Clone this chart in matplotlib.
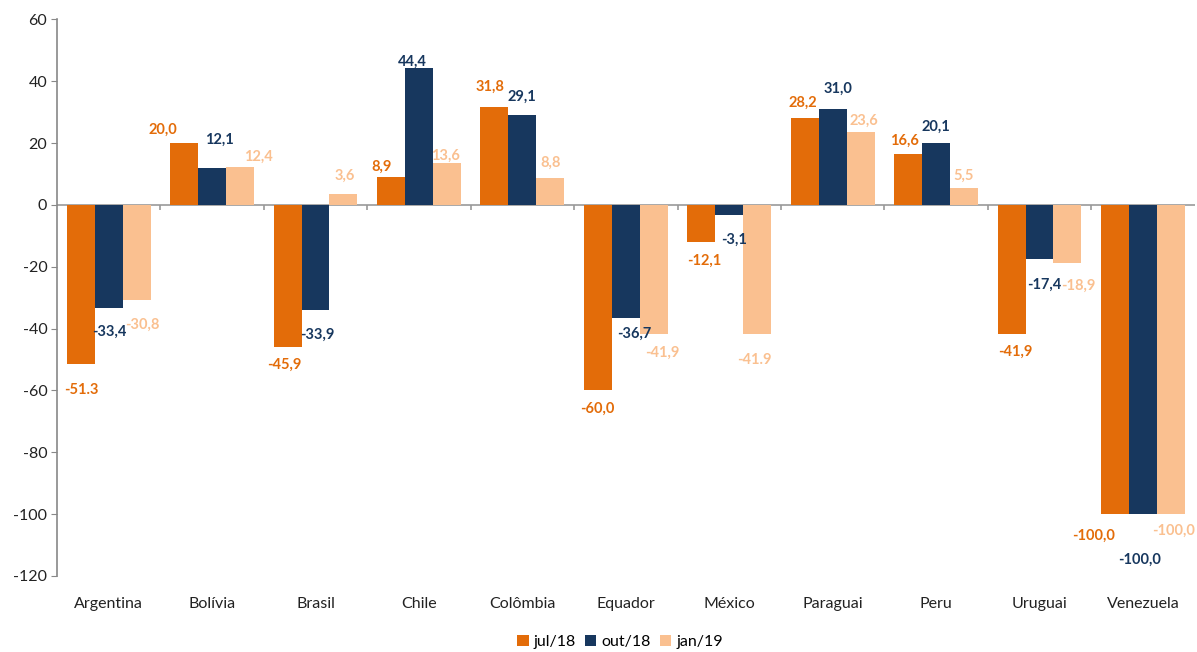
import matplotlib
matplotlib.use("Agg")
import matplotlib.pyplot as plt
import numpy as np

plt.rcParams['font.family'] = ['Lato', 'DejaVu Sans']

categories = ["Argentina", "Bolívia", "Brasil", "Chile", "Colômbia", "Equador",
              "México", "Paraguai", "Peru", "Uruguai", "Venezuela"]
series_names = ["jul/18", "out/18", "jan/19"]
jul18 = [-51.3, 20.0, -45.9, 8.9, 31.8, -60.0, -12.1, 28.2, 16.6, -41.9, -100.0]
out18 = [-33.4, 12.1, -33.9, 44.4, 29.1, -36.7, -3.1, 31.0, 20.1, -17.4, -100.0]
jan19 = [-30.8, 12.4, 3.6, 13.6, 8.8, -41.9, -41.9, 23.6, 5.5, -18.9, -100.0]
jul18_labels = ["-51.3", "20,0", "-45,9", "8,9", "31,8", "-60,0", "-12,1", "28,2", "16,6", "-41,9", "-100,0"]
out18_labels = ["-33,4", "12,1", "-33,9", "44,4", "29,1", "-36,7", "-3,1", "31,0", "20,1", "-17,4", "-100,0"]
jan19_labels = ["-30,8", "12,4", "3,6", "13,6", "8,8", "-41,9", "-41.9", "23,6", "5,5", "-18,9", "-100,0"]
yticks = [-120, -100, -80, -60, -40, -20, 0, 20, 40, 60]

colors = ["#E36C09", "#17375E", "#FAC090"]

# label offsets (pixels; dx right, dy down) relative to bar centre / bar end
offsets = [
    [(1, 26), (-21, -13), (-3, 18), (-9, -11), (-4, -20), (-1, 18), (3, 18), (-2, -15), (-4, -13), (4, 17), (-21, 22)],
    [(1, 24), (7, -28), (2, 25), (-7, -6), (0, -18), (8, 15), (5, 25), (5, -20), (0, -16), (5, 26), (-3, 46)],
    [(6, 25), (18, -10), (1, -18), (-1, -7), (0, -15), (9, 18), (-3, 26), (3, -11), (0, -12), (11, 22), (3, 17)],
]

fig = plt.figure(figsize=(11.97, 6.52), dpi=100)
ax = fig.add_axes([0.0476, 0.1166, 0.9504, 0.8536])

x = np.arange(len(categories))
w = 0.27
all_series = [jul18, out18, jan19]
all_labels = [jul18_labels, out18_labels, jan19_labels]
for k, (vals, labs) in enumerate(zip(all_series, all_labels)):
    xs = x + (k - 1) * w
    ax.bar(xs, vals, width=w, color=colors[k], label=series_names[k], zorder=2)
    for j, (xv, v, t) in enumerate(zip(xs, vals, labs)):
        dx, dy = offsets[k][j]
        ax.annotate(t, (xv, v), xytext=(dx * 0.72, -dy * 0.72), textcoords="offset points",
                    ha="center", va="center", fontsize=10.5, fontweight="bold",
                    color=colors[k], zorder=3)

ax.set_xlim(-0.5, len(categories) - 0.5)
ax.set_ylim(-120, 60)
ax.set_yticks(yticks)
ax.set_yticklabels([str(t) for t in yticks], fontsize=11.5, color="#222222")
ax.tick_params(axis="y", direction="out", length=4, color="#888888", pad=3)

ax.set_xticks(x)
ax.set_xticklabels(categories, fontsize=11.5, color="#222222")
ax.tick_params(axis="x", length=0, pad=15)

for s in ["top", "right", "bottom"]:
    ax.spines[s].set_visible(False)
ax.spines["left"].set_color("#888888")
ax.spines["left"].set_linewidth(1.2)

ax.axhline(0, color="#999999", linewidth=1.2, zorder=1)
ax.vlines(x[:-1] + 0.5, -1.5, 0, color="#999999", linewidth=1.2, zorder=1)

leg = fig.legend(loc="lower center", bbox_to_anchor=(0.518, -0.017), ncol=3, frameon=False,
                 fontsize=11.5, handlelength=0.7, handleheight=0.7, handletextpad=0.3,
                 columnspacing=0.6)

fig.savefig("out.png", dpi=100)
